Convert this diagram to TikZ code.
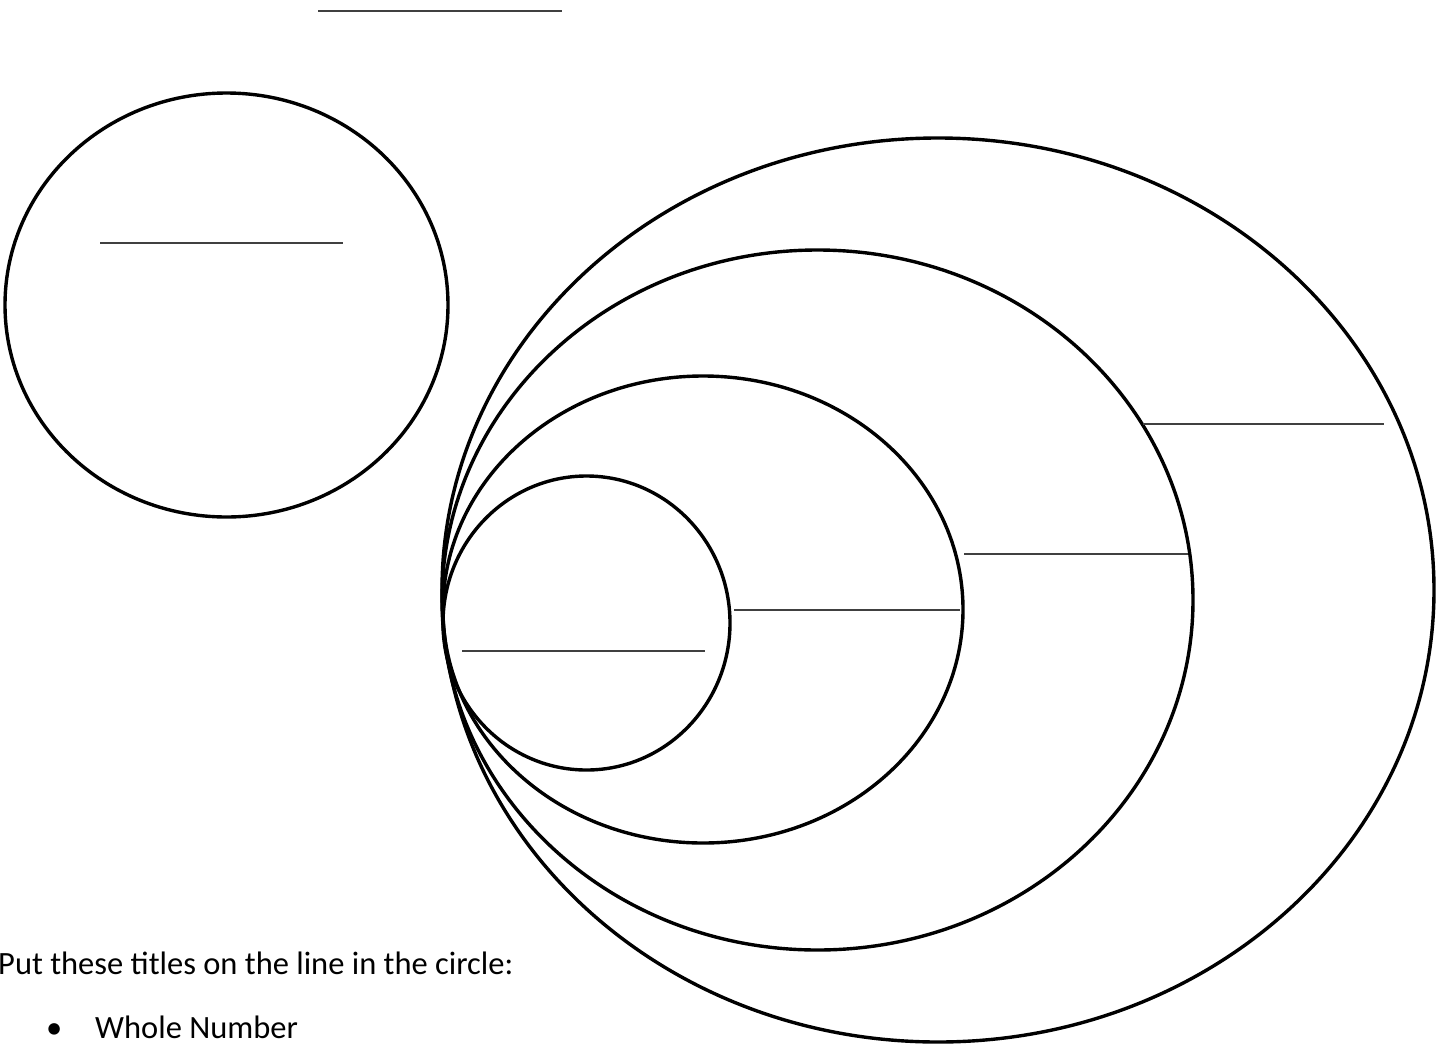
\documentclass[tikz,border=0pt]{standalone}
\usepackage{fontspec}
\setmainfont{Carlito}
\begin{document}
\begin{tikzpicture}[x=1pt,y=-1pt,
  ring/.style={draw=black,line width=3.4pt},
  blank/.style={draw=black!75,line width=1.5pt},
  txt/.style={font=\fontsize{32.5}{38}\selectfont,inner sep=0pt,anchor=base west}]
\useasboundingbox (0,0) rectangle (1448,1047);
% top answer line
\draw[blank] (318,11) -- (562,11);
% left circle
\draw[ring] (226.5,305) ellipse [x radius=221.5,y radius=212];
\draw[blank] (100,243) -- (343,243);
% nested ellipses
\draw[ring] (938,590) ellipse [x radius=496,y radius=452];
\draw[ring] (817.5,600) ellipse [x radius=375.5,y radius=350];
\draw[ring] (703,609.5) ellipse [x radius=260,y radius=233.5];
\draw[ring] (586.5,623) ellipse [x radius=143.5,y radius=147];
\draw[blank] (1143,424) -- (1384,424);
\draw[blank] (964,554) -- (1188,554);
\draw[blank] (734,610) -- (960,610);
\draw[blank] (462,651) -- (705,651);
% text
\node[txt] (t1) at (-2,974) {Put these titles on the line in the circle:};
\node[txt] (b1) at (46,1038) {\textbullet};
\node[txt] (t2) at (95,1038) {Whole Number};
\end{tikzpicture}
\end{document}
